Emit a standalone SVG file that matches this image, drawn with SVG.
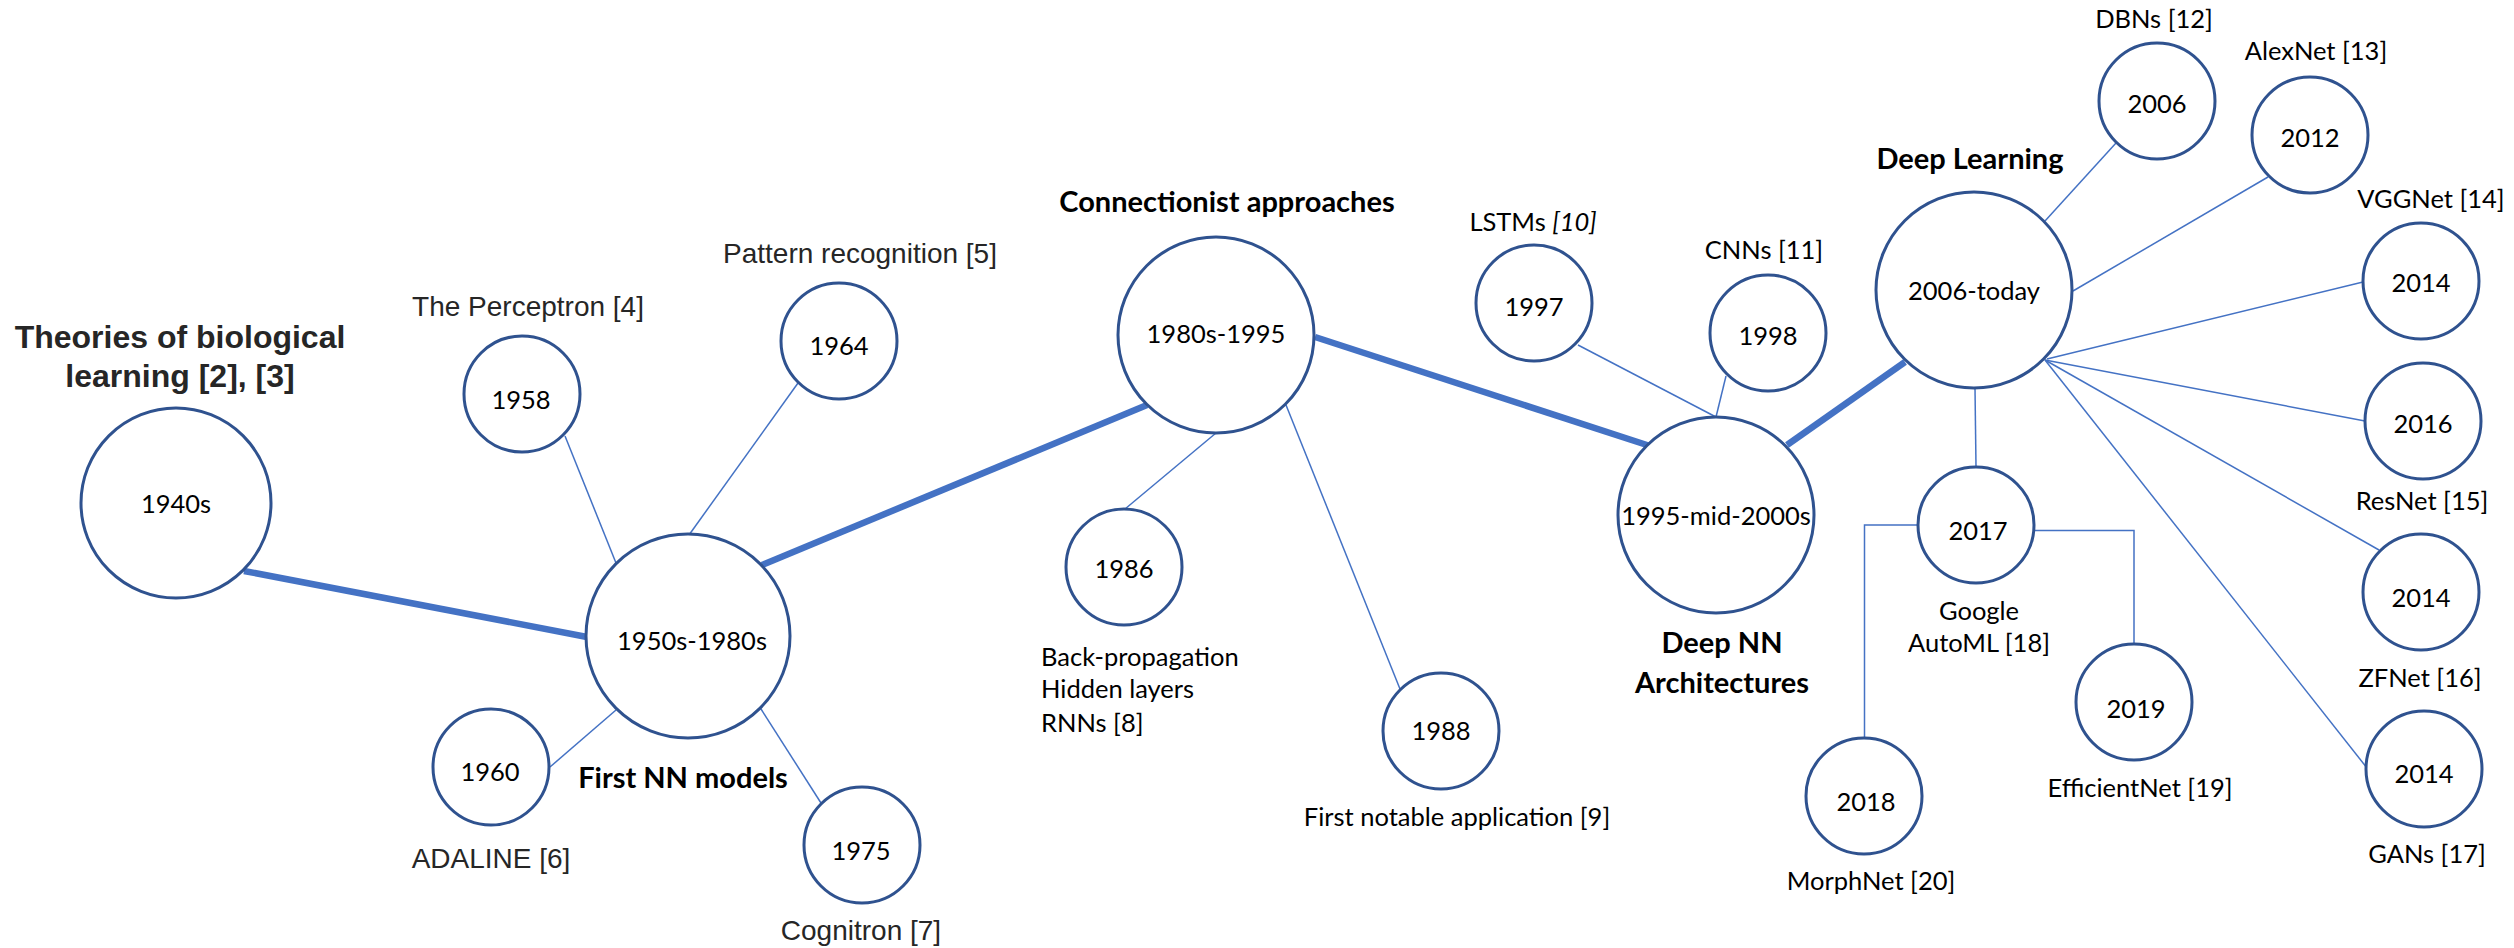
<svg xmlns="http://www.w3.org/2000/svg" width="2514" height="948" viewBox="0 0 2514 948">
  <style>
    .node { fill: #ffffff; stroke: #2F528F; stroke-width: 3; }
    .yr { font-family: Lato, "Liberation Sans", sans-serif; font-size: 25.5px; fill: #000000; text-anchor: middle; }
    .lbl { font-family: Lato, "Liberation Sans", sans-serif; font-size: 25.5px; fill: #000000; text-anchor: middle; }
    .hd { font-family: Lato, "Liberation Sans", sans-serif; font-size: 29px; font-weight: bold; fill: #000000; text-anchor: middle; }
    .ar { font-family: "Liberation Sans", Arial, sans-serif; font-size: 28px; fill: #262626; text-anchor: middle; }
    .ti { font-family: "Liberation Sans", Arial, sans-serif; font-size: 32px; font-weight: bold; fill: #262626; text-anchor: middle; }
    .thin { stroke: #4472C4; stroke-width: 1.5; fill: none; }
    .thick { stroke: #4472C4; stroke-width: 6.5; fill: none; }
  </style>

  <!-- connectors -->
  <g id="connectors">
    <line class="thick" x1="244" y1="571" x2="587" y2="637"/>
    <line class="thick" x1="762" y1="565" x2="1147" y2="405"/>
    <line class="thick" x1="1315" y1="337" x2="1650" y2="446"/>
    <line class="thick" x1="1787" y1="445" x2="1905" y2="362"/>

    <line class="thin" x1="616" y1="563" x2="565" y2="436"/>
    <line class="thin" x1="689" y1="535" x2="798" y2="383"/>
    <line class="thin" x1="616" y1="710" x2="550" y2="767"/>
    <line class="thin" x1="761" y1="709" x2="821" y2="803"/>

    <line class="thin" x1="1216" y1="433" x2="1125" y2="509"/>
    <line class="thin" x1="1286" y1="405" x2="1400" y2="689"/>

    <line class="thin" x1="1716" y1="417" x2="1578" y2="345"/>
    <line class="thin" x1="1716" y1="417" x2="1726" y2="376"/>

    <line class="thin" x1="2045" y1="221" x2="2116" y2="143"/>
    <line class="thin" x1="2073" y1="291" x2="2268" y2="177"/>
    <line class="thin" x1="2047" y1="359" x2="2363" y2="282"/>
    <line class="thin" x1="2045" y1="360" x2="2365" y2="421"/>
    <line class="thin" x1="2045" y1="360" x2="2379" y2="550"/>
    <line class="thin" x1="2045" y1="360" x2="2367" y2="768"/>
    <line class="thin" x1="1975" y1="388" x2="1976" y2="467"/>

    <polyline class="thin" points="1918,525 1864.5,525 1864.5,738"/>
    <polyline class="thin" points="2028,530.5 2134,530.5 2134,644"/>
  </g>

  <!-- era: theories of biological learning -->
  <g id="n1940s">
    <circle class="node" cx="176" cy="503" r="95"/>
    <text class="yr" x="176" y="513">1940s</text>
    <text class="ti" x="180" y="348">Theories of biological</text>
    <text class="ti" x="180" y="387">learning [2], [3]</text>
  </g>

  <!-- era: first NN models -->
  <g id="n1950s">
    <circle class="node" cx="688" cy="636" r="102"/>
    <text class="yr" x="692" y="650">1950s-1980s</text>
    <text class="hd" x="683" y="788">First NN models</text>
  </g>
  <g id="n1958">
    <circle class="node" cx="522" cy="394" r="58"/>
    <text class="yr" x="521" y="409">1958</text>
    <text class="ar" x="528" y="316">The Perceptron [4]</text>
  </g>
  <g id="n1964">
    <circle class="node" cx="839" cy="341" r="58"/>
    <text class="yr" x="839" y="355">1964</text>
    <text class="ar" x="860" y="263">Pattern recognition [5]</text>
  </g>
  <g id="n1960">
    <circle class="node" cx="491" cy="767" r="58"/>
    <text class="yr" x="490" y="781">1960</text>
    <text class="ar" x="491" y="868">ADALINE [6]</text>
  </g>
  <g id="n1975">
    <circle class="node" cx="862" cy="845" r="58"/>
    <text class="yr" x="861" y="860">1975</text>
    <text class="ar" x="861" y="940">Cognitron [7]</text>
  </g>

  <!-- era: connectionist approaches -->
  <g id="n1980s">
    <circle class="node" cx="1216" cy="335" r="98"/>
    <text class="yr" x="1216" y="343">1980s-1995</text>
    <text class="hd" x="1227" y="212">Connectionist approaches</text>
  </g>
  <g id="n1986">
    <circle class="node" cx="1124" cy="567" r="58"/>
    <text class="yr" x="1124" y="578">1986</text>
    <text class="lbl" style="text-anchor:start" x="1041" y="666">Back-propagation</text>
    <text class="lbl" style="text-anchor:start" x="1041" y="698">Hidden layers</text>
    <text class="lbl" style="text-anchor:start" x="1041" y="732">RNNs [8]</text>
  </g>
  <g id="n1988">
    <circle class="node" cx="1441" cy="731" r="58"/>
    <text class="yr" x="1441" y="740">1988</text>
    <text class="lbl" x="1457" y="826">First notable application [9]</text>
  </g>

  <!-- era: deep NN architectures -->
  <g id="n1995">
    <circle class="node" cx="1716" cy="515" r="98"/>
    <text class="yr" x="1716" y="525">1995-mid-2000s</text>
    <text class="hd" x="1722" y="653">Deep NN</text>
    <text class="hd" x="1722" y="693">Architectures</text>
  </g>
  <g id="n1997">
    <circle class="node" cx="1534" cy="303" r="58"/>
    <text class="yr" x="1534" y="316">1997</text>
    <text class="lbl" x="1533" y="231">LSTMs <tspan font-style="italic">[10]</tspan></text>
  </g>
  <g id="n1998">
    <circle class="node" cx="1768" cy="333" r="58"/>
    <text class="yr" x="1768" y="345">1998</text>
    <text class="lbl" x="1764" y="259">CNNs [11]</text>
  </g>

  <!-- era: deep learning -->
  <g id="n2006today">
    <circle class="node" cx="1974" cy="290" r="98"/>
    <text class="yr" x="1974" y="300">2006-today</text>
    <text class="hd" x="1970" y="169">Deep Learning</text>
  </g>
  <g id="n2006">
    <circle class="node" cx="2157" cy="101" r="58"/>
    <text class="yr" x="2157" y="113">2006</text>
    <text class="lbl" x="2154" y="28">DBNs [12]</text>
  </g>
  <g id="n2012">
    <circle class="node" cx="2310" cy="135" r="58"/>
    <text class="yr" x="2310" y="147">2012</text>
    <text class="lbl" x="2316" y="60">AlexNet [13]</text>
  </g>
  <g id="n2014vgg">
    <circle class="node" cx="2421" cy="281" r="58"/>
    <text class="yr" x="2421" y="292">2014</text>
    <text class="lbl" x="2431" y="208">VGGNet [14]</text>
  </g>
  <g id="n2016">
    <circle class="node" cx="2423" cy="421" r="58"/>
    <text class="yr" x="2423" y="433">2016</text>
    <text class="lbl" x="2422" y="510">ResNet [15]</text>
  </g>
  <g id="n2014zf">
    <circle class="node" cx="2421" cy="592" r="58"/>
    <text class="yr" x="2421" y="607">2014</text>
    <text class="lbl" x="2420" y="687">ZFNet [16]</text>
  </g>
  <g id="n2014gan">
    <circle class="node" cx="2424" cy="769" r="58"/>
    <text class="yr" x="2424" y="783">2014</text>
    <text class="lbl" x="2427" y="863">GANs [17]</text>
  </g>
  <g id="n2017">
    <circle class="node" cx="1976" cy="525" r="58"/>
    <text class="yr" x="1978" y="540">2017</text>
    <text class="lbl" x="1979" y="620">Google</text>
    <text class="lbl" x="1979" y="652">AutoML [18]</text>
  </g>
  <g id="n2018">
    <circle class="node" cx="1864" cy="796" r="58"/>
    <text class="yr" x="1866" y="811">2018</text>
    <text class="lbl" x="1871" y="890">MorphNet [20]</text>
  </g>
  <g id="n2019">
    <circle class="node" cx="2134" cy="702" r="58"/>
    <text class="yr" x="2136" y="718">2019</text>
    <text class="lbl" x="2140" y="797">EfficientNet [19]</text>
  </g>
</svg>
